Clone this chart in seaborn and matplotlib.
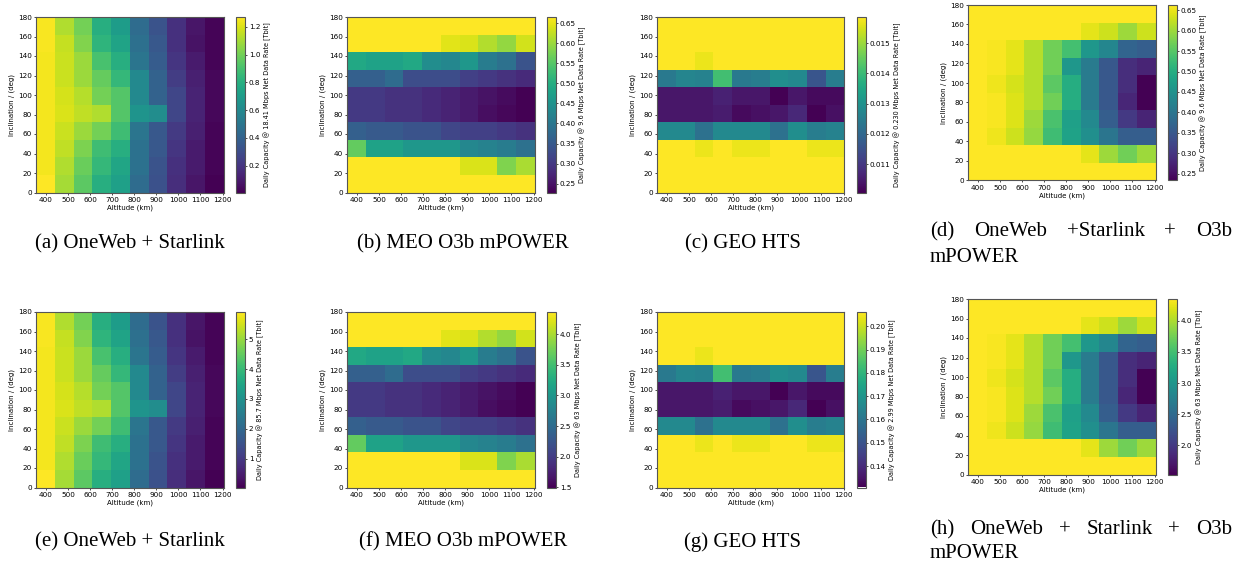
import numpy as np
import pandas as pd
import matplotlib
matplotlib.use("Agg")
import matplotlib.pyplot as plt
import seaborn as sns

# ==================== data ====================
# altitude of each grid column (km) and inclination of each grid row (deg, top row first)
ALT_KM = [397, 482, 568, 653, 738, 824, 909, 994, 1080, 1165]
INC_DEG = [171, 153, 135, 117, 99, 81, 63, 45, 27, 9]

# daily capacity [Tbit] at the reference (top row) data rate
CAP_ONEWEB_STARLINK = [
    [1.26, 1.12, 1.00, 0.80, 0.70, 0.45, 0.33, 0.18, 0.08, 0.02],
    [1.26, 1.16, 1.03, 0.83, 0.74, 0.47, 0.35, 0.18, 0.07, 0.02],
    [1.25, 1.17, 1.08, 0.90, 0.80, 0.50, 0.37, 0.20, 0.10, 0.02],
    [1.25, 1.17, 1.08, 0.97, 0.85, 0.60, 0.40, 0.23, 0.12, 0.03],
    [1.25, 1.19, 1.13, 1.00, 0.93, 0.60, 0.40, 0.27, 0.13, 0.03],
    [1.25, 1.20, 1.15, 1.12, 0.93, 0.66, 0.62, 0.27, 0.13, 0.03],
    [1.25, 1.17, 1.08, 1.00, 0.88, 0.50, 0.35, 0.22, 0.12, 0.02],
    [1.25, 1.15, 1.02, 0.88, 0.80, 0.48, 0.35, 0.20, 0.10, 0.02],
    [1.25, 1.12, 0.98, 0.85, 0.75, 0.48, 0.33, 0.18, 0.10, 0.02],
    [1.27, 1.10, 0.95, 0.80, 0.72, 0.45, 0.32, 0.17, 0.08, 0.007],
]
CAP_MEO = [
    [0.665, 0.665, 0.665, 0.665, 0.665, 0.665, 0.665, 0.665, 0.665, 0.665],
    [0.665, 0.665, 0.665, 0.665, 0.665, 0.645, 0.640, 0.615, 0.595, 0.635],
    [0.49, 0.48, 0.48, 0.49, 0.44, 0.43, 0.46, 0.41, 0.39, 0.34],
    [0.36, 0.36, 0.38, 0.33, 0.33, 0.33, 0.31, 0.30, 0.29, 0.28],
    [0.30, 0.30, 0.29, 0.29, 0.28, 0.27, 0.26, 0.25, 0.24, 0.228],
    [0.30, 0.30, 0.29, 0.29, 0.28, 0.27, 0.26, 0.245, 0.235, 0.228],
    [0.36, 0.35, 0.35, 0.34, 0.34, 0.32, 0.31, 0.31, 0.30, 0.29],
    [0.56, 0.48, 0.48, 0.46, 0.46, 0.46, 0.43, 0.42, 0.41, 0.39],
    [0.665, 0.665, 0.665, 0.665, 0.665, 0.665, 0.640, 0.640, 0.580, 0.610],
    [0.665, 0.665, 0.665, 0.665, 0.665, 0.665, 0.665, 0.665, 0.665, 0.665],
]
CAP_GEO = [
    [0.01586] * 10,
    [0.01586] * 10,
    [0.01586, 0.01586, 0.0157, 0.01586, 0.01586, 0.01586, 0.01586, 0.01586, 0.01586, 0.01586],
    [0.0124, 0.0127, 0.0126, 0.0141, 0.0124, 0.0125, 0.0129, 0.0128, 0.0116, 0.0125],
    [0.0104, 0.0104, 0.0104, 0.0106, 0.0104, 0.0104, 0.01006, 0.0104, 0.0102, 0.0102],
    [0.0104, 0.0104, 0.0104, 0.0105, 0.0102, 0.0103, 0.0104, 0.0107, 0.01006, 0.0103],
    [0.0128, 0.0128, 0.0122, 0.0128, 0.0128, 0.0128, 0.0122, 0.0129, 0.0125, 0.0126],
    [0.01586, 0.01586, 0.0157, 0.01586, 0.0157, 0.0157, 0.01586, 0.01586, 0.0157, 0.0157],
    [0.01586] * 10,
    [0.01586] * 10,
]
CAP_ALL = [
    [0.663, 0.663, 0.663, 0.663, 0.663, 0.663, 0.663, 0.663, 0.663, 0.663],
    [0.663, 0.663, 0.663, 0.663, 0.663, 0.663, 0.645, 0.630, 0.600, 0.630],
    [0.663, 0.658, 0.645, 0.615, 0.570, 0.535, 0.460, 0.430, 0.370, 0.360],
    [0.663, 0.658, 0.645, 0.615, 0.570, 0.460, 0.410, 0.350, 0.290, 0.275],
    [0.663, 0.652, 0.635, 0.615, 0.555, 0.500, 0.410, 0.350, 0.290, 0.233],
    [0.663, 0.658, 0.640, 0.615, 0.570, 0.500, 0.410, 0.350, 0.280, 0.233],
    [0.663, 0.658, 0.640, 0.600, 0.540, 0.475, 0.435, 0.360, 0.305, 0.275],
    [0.663, 0.652, 0.630, 0.595, 0.530, 0.480, 0.445, 0.400, 0.360, 0.360],
    [0.663, 0.663, 0.663, 0.663, 0.663, 0.663, 0.645, 0.600, 0.570, 0.600],
    [0.663, 0.663, 0.663, 0.663, 0.663, 0.663, 0.663, 0.663, 0.663, 0.663],
]

CAPS = [CAP_ONEWEB_STARLINK, CAP_MEO, CAP_GEO, CAP_ALL]
RATE_TOP = ["18.41", "9.6", "0.230", "9.6"]       # Mbps
RATE_BOTTOM = ["85.7", "63", "2.99", "63"]        # Mbps
CAPTIONS_TOP = ["(a) OneWeb + Starlink", "(b) MEO O3b mPOWER", "(c) GEO HTS",
                "(d) OneWeb +Starlink + O3b|mPOWER"]
CAPTIONS_BOTTOM = ["(e) OneWeb + Starlink", "(f) MEO O3b mPOWER", "(g) GEO HTS",
                   "(h) OneWeb + Starlink + O3b|mPOWER"]

X_TICKS = [400, 500, 600, 700, 800, 900, 1000, 1100, 1200]
Y_TICKS = [0, 20, 40, 60, 80, 100, 120, 140, 160, 180]

# ==================== layout (pixels) ====================
W, H = 1245, 568
AX_LEFT = [36, 347, 657, 968]
AX_TOP_ROW1 = [17, 17, 17, 5]
AX_TOP_ROW2 = [312, 312, 312, 299]
AX_W, AX_H = 187.5, 175.5
CB_GAP, CB_W = 12, 9
CAP_CENTER = [130, 463, 743, None]
FS_TICK = 5.2
FS_LABEL = 5.0
FS_CBAR = 4.7

plt.rcParams["font.family"] = ["DejaVu Sans"]


def to_fig(x, y, w, h):
    return [x / W, 1 - (y + h) / H, w / W, h / H]


def draw_panel(fig, x, y, grid, rate):
    ax = fig.add_axes(to_fig(x, y, AX_W, AX_H))
    cax = fig.add_axes(to_fig(x + AX_W + CB_GAP, y, CB_W, AX_H))
    df = pd.DataFrame(grid, index=INC_DEG, columns=ALT_KM)
    sns.heatmap(df, ax=ax, cbar_ax=cax, cmap="viridis",
                xticklabels=False, yticklabels=False, linewidths=0)
    step_x = ALT_KM[1] - ALT_KM[0]
    step_y = INC_DEG[0] - INC_DEG[1]
    ax.set_xticks([0.5 + (t - ALT_KM[0]) / step_x for t in X_TICKS])
    ax.set_xticklabels([str(t) for t in X_TICKS], rotation=0)
    ax.set_yticks([0.5 + (INC_DEG[0] - t) / step_y for t in Y_TICKS])
    ax.set_yticklabels([str(t) for t in Y_TICKS], rotation=0)
    ax.set_xlabel("Altitude (km)", fontsize=FS_LABEL, labelpad=1.5)
    ax.set_ylabel("Inclination / (deg)", fontsize=FS_LABEL, labelpad=2)
    ax.tick_params(labelsize=FS_TICK, length=1.6, width=0.5, pad=1.5)
    for sp in ax.spines.values():
        sp.set_visible(True)
        sp.set_color("#555555")
        sp.set_linewidth(0.8)
    cb = ax.collections[0].colorbar
    cb.outline.set_linewidth(0.8)
    cb.outline.set_edgecolor("#555555")
    cb.ax.tick_params(labelsize=FS_TICK, length=1.6, width=0.5, pad=1.5)
    cb.set_label(f"Daily Capacity @ {rate} Mbps Net Data Rate [Tbit]", fontsize=FS_CBAR, labelpad=2)
    return ax


def justified(fig, words, x0, x1, y, **kw):
    texts = [fig.text(0, 1 - y / H, w, ha="left", va="center", **kw) for w in words]
    fig.canvas.draw()
    r = fig.canvas.get_renderer()
    widths = [t.get_window_extent(r).width for t in texts]
    gap = (x1 - x0 - sum(widths)) / (len(words) - 1)
    xx = x0
    for t, w in zip(texts, widths):
        t.set_x(xx / W)
        xx += w + gap


fig = plt.figure(figsize=(W / 100, H / 100), dpi=100)
cap_kw = dict(fontsize=15, family=["Liberation Serif", "DejaVu Serif"])

for i in range(4):
    top = np.array(CAPS[i], dtype=float)
    # capacity scales with the net data rate for the same contact time
    bottom = top / float(RATE_TOP[i]) * float(RATE_BOTTOM[i])
    draw_panel(fig, AX_LEFT[i], AX_TOP_ROW1[i], top, RATE_TOP[i])
    draw_panel(fig, AX_LEFT[i], AX_TOP_ROW2[i], bottom, RATE_BOTTOM[i])

for i in range(3):
    fig.text(CAP_CENTER[i] / W, 1 - 244 / H, CAPTIONS_TOP[i], ha="center", va="center", **cap_kw)
    fig.text(CAP_CENTER[i] / W, 1 - 542 / H, CAPTIONS_BOTTOM[i], ha="center", va="center", **cap_kw)

line1, line2 = CAPTIONS_TOP[3].split("|")
justified(fig, line1.split(" "), 930, 1232, 232, **cap_kw)
fig.text(930 / W, 1 - 258 / H, line2, ha="left", va="center", **cap_kw)
line1, line2 = CAPTIONS_BOTTOM[3].split("|")
justified(fig, line1.split(" "), 930, 1232, 530, **cap_kw)
fig.text(930 / W, 1 - 554 / H, line2, ha="left", va="center", **cap_kw)

fig.savefig("out.png", dpi=100)
plt.close(fig)
print("Saved: out.png")
